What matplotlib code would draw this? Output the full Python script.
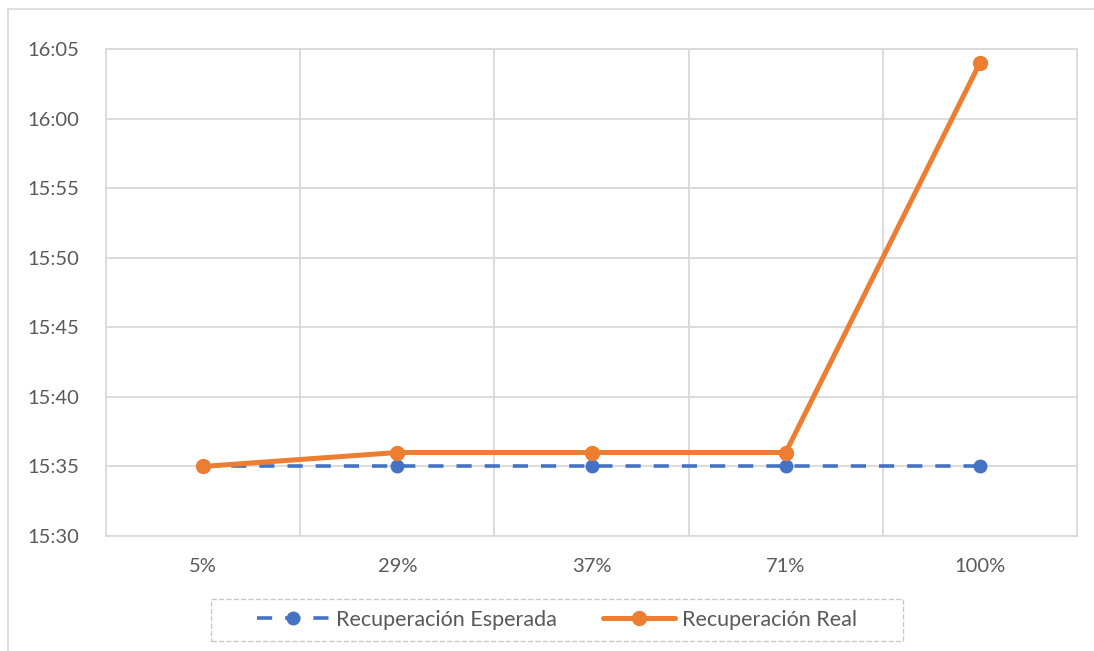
import matplotlib
matplotlib.use("Agg")
from matplotlib import pyplot as plt
from matplotlib.lines import Line2D
from matplotlib.patches import Rectangle
from matplotlib.ticker import FuncFormatter, MultipleLocator

categories = ["5%", "29%", "37%", "71%", "100%"]
esperada = ["15:35", "15:35", "15:35", "15:35", "15:35"]
real = ["15:35", "15:36", "15:36", "15:36", "16:04"]


def to_minutes(t: str) -> int:
    h, m = t.split(":")
    return int(h) * 60 + int(m)


def fmt_time(v, _pos):
    v = int(round(v))
    return f"{v // 60}:{v % 60:02d}"


plt.rcParams["font.family"] = ["Lato", "DejaVu Sans"]

W, H = 1094, 651
fig = plt.figure(figsize=(W / 100, H / 100), dpi=100)
ax = fig.add_axes([106 / W, 115 / H, 971 / W, 487 / H])

x = list(range(len(categories)))
ax.plot(x, [to_minutes(t) for t in esperada], color="#4472C4", lw=2.6,
        dashes=(4.2, 3.6), marker="o", markersize=9, label="Recuperación Esperada",
        zorder=3)
ax.plot(x, [to_minutes(t) for t in real], color="#ED7D31", lw=3.6,
        marker="o", markersize=10, solid_capstyle="round",
        label="Recuperación Real", zorder=4)

ax.set_xlim(-0.5, len(categories) - 0.5)
ax.set_ylim(to_minutes("15:30"), to_minutes("16:05"))
ax.yaxis.set_major_locator(MultipleLocator(5))
ax.yaxis.set_major_formatter(FuncFormatter(fmt_time))
ax.set_xticks(x)
ax.set_xticklabels(categories)
ax.set_xticks([i + 0.5 for i in x[:-1]], minor=True)

grid_c = "#d9d9d9"
ax.grid(axis="y", which="major", color=grid_c, lw=1.3)
ax.grid(axis="x", which="minor", color=grid_c, lw=1.3)
ax.set_axisbelow(True)
for s in ax.spines.values():
    s.set_color(grid_c)
    s.set_linewidth(1.3)
ax.tick_params(which="both", length=0, labelsize=14.5, colors="#595959")
ax.tick_params(axis="x", pad=16)
ax.tick_params(axis="y", pad=19)

leg = fig.legend(loc="center", bbox_to_anchor=(557 / W, 1 - 620 / H),
                 ncol=2, frameon=False, fontsize=15.5,
                 handlelength=3.35, columnspacing=2.1, handletextpad=0.35)
for t in leg.get_texts():
    t.set_color("#595959")

fig.add_artist(Rectangle((211 / W, 1 - 641 / H), 692 / W, 42 / H,
                         transform=fig.transFigure, fill=False,
                         edgecolor="#c8c8c8", linestyle="--", lw=1.0))

border = "#d9d9d9"
fig.add_artist(Line2D([8 / W, 1], [1 - 9 / H, 1 - 9 / H], color=border, lw=1.2))
fig.add_artist(Line2D([8 / W, 8 / W], [0, 1 - 9 / H], color=border, lw=1.2))

fig.savefig("out.png", dpi=100)
